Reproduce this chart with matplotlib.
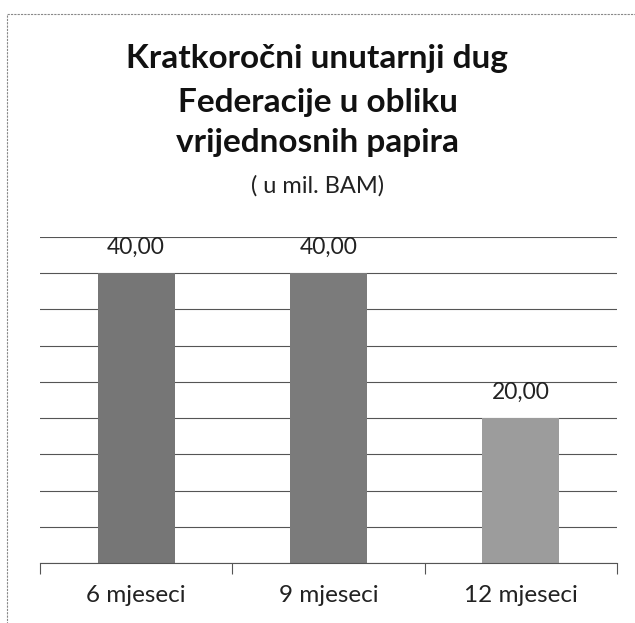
import matplotlib.pyplot as plt
from matplotlib.patches import Rectangle

# podaci
kategorije = ['6 mjeseci', '9 mjeseci', '12 mjeseci']
vrijednosti = [40.0, 40.0, 20.0]
boje = ['#767676', '#7b7b7b', '#9c9c9c']
naslov = ['Kratkoročni unutarnji dug', 'Federacije u obliku', 'vrijednosnih papira']
podnaslov = '( u mil. BAM)'

plt.rcParams['font.family'] = ['Lato', 'DejaVu Sans']

fig = plt.figure(figsize=(6.35, 6.23), dpi=100)
ax = fig.add_axes([40/635, 60/623, 577/635, 326/623])

x = range(len(kategorije))
ax.bar(x, vrijednosti, width=0.4, color=boje, zorder=2)

for i, v in zip(x, vrijednosti):
    ax.annotate(f'{v:.2f}'.replace('.', ','), (i, v), xytext=(0, 14),
                textcoords='offset points', ha='center', va='baseline',
                fontsize=16.5, color='#222222')

ax.set_xlim(-0.5, 2.5)
ax.set_ylim(0, 45)
ax.set_yticks(range(0, 50, 5))
ax.yaxis.grid(True, color='#555555', linewidth=0.8, zorder=0)
ax.tick_params(axis='y', left=False, labelleft=False)

ax.set_xticks(list(x))
ax.set_xticklabels(kategorije, fontsize=17.5, color='#222222')
ax.set_xticks([-0.5, 0.5, 1.5, 2.5], minor=True)
ax.tick_params(axis='x', which='major', length=0, pad=16)
ax.tick_params(axis='x', which='minor', length=8, color='#555555', width=0.8)

for s in ['top', 'right', 'left']:
    ax.spines[s].set_visible(False)
ax.spines['bottom'].set_color('#555555')
ax.spines['bottom'].set_linewidth(0.8)

# naslov red po red
for red, yb in zip(naslov, [68, 112, 152]):
    fig.text(0.5, 1 - yb/623, red, ha='center', va='baseline', fontsize=24,
             fontweight='bold', color='#111111')
fig.text(0.5, 1 - 193/623, podnaslov, ha='center', va='baseline', fontsize=17,
         color='#222222')

# okvir grafikona (skeniran, vidi se samo lijevo i gore)
fig.patches.append(Rectangle((7/635, -0.1), 1.2, 1.1 - 14/623,
                             transform=fig.transFigure, fill=False,
                             edgecolor='#888888', linewidth=0.8,
                             linestyle=(0, (2, 1))))

fig.savefig('out.png', dpi=100)
